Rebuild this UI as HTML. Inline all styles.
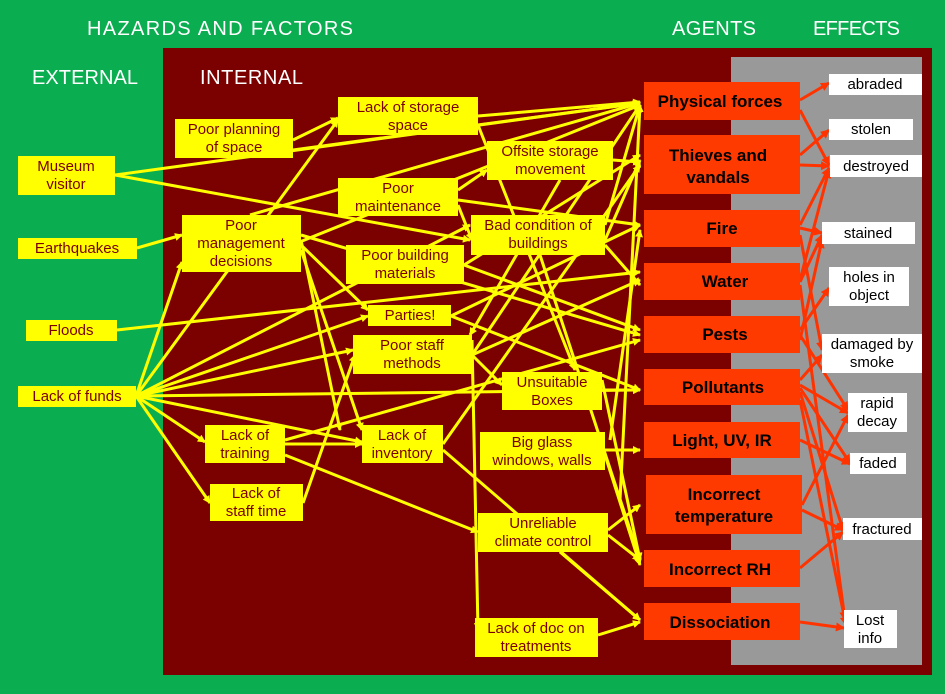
<!DOCTYPE html>
<html><head><meta charset="utf-8"><style>
html,body{margin:0;padding:0;background:#0aad4f;}
svg{display:block}
.h{font-family:"Liberation Sans",sans-serif;fill:#fff;font-size:20px}
.y{font-family:"Liberation Sans",sans-serif;fill:#7a0000;font-size:15px;text-anchor:middle}
.a{font-family:"Liberation Sans",sans-serif;fill:#000;font-size:17px;font-weight:bold;text-anchor:middle}
.e{font-family:"Liberation Sans",sans-serif;fill:#000;font-size:15px;text-anchor:middle}
</style></head><body>
<svg width="945" height="694" xmlns="http://www.w3.org/2000/svg">
<defs>
<marker id="ya" markerWidth="8" markerHeight="8" refX="7" refY="4" orient="auto" markerUnits="userSpaceOnUse" viewBox="0 0 8 8"><path d="M0,0 L8,4 L0,8 z" fill="#ffff00"/></marker>
<marker id="ra" markerWidth="9" markerHeight="9" refX="8" refY="4.5" orient="auto" markerUnits="userSpaceOnUse" viewBox="0 0 9 9"><path d="M0,0 L9,4.5 L0,9 z" fill="#ff3300"/></marker>
</defs>
<rect width="945" height="694" fill="#0aad4f"/>
<rect x="163" y="48" width="769" height="627" fill="#7b0000"/>
<rect x="731" y="57" width="191" height="608" fill="#999"/>
<text class="h" x="87" y="35" textLength="266">HAZARDS  AND  FACTORS</text>
<text class="h" x="672" y="35" textLength="84">AGENTS</text>
<text class="h" x="813" y="35" textLength="87">EFFECTS</text>
<text class="h" x="32" y="84" textLength="106">EXTERNAL</text>
<text class="h" x="200" y="84" textLength="103">INTERNAL</text>

<g stroke="#ffff00" stroke-width="3" fill="none" marker-end="url(#ya)">
<line x1="115" y1="175" x2="640" y2="103"/>
<line x1="115" y1="175" x2="470" y2="240"/>
<line x1="137" y1="248" x2="182" y2="235"/>
<line x1="117" y1="330" x2="640" y2="272"/>
<line x1="136" y1="396" x2="182" y2="262"/>
<line x1="136" y1="396" x2="338" y2="120"/>
<line x1="136" y1="396" x2="470" y2="225"/>
<line x1="136" y1="396" x2="368" y2="316"/>
<line x1="136" y1="396" x2="353" y2="350"/>
<line x1="136" y1="396" x2="640" y2="390"/>
<line x1="136" y1="396" x2="205" y2="442"/>
<line x1="136" y1="396" x2="362" y2="442"/>
<line x1="136" y1="396" x2="210" y2="503"/>
<line x1="285" y1="455" x2="478" y2="532"/>
<line x1="285" y1="444" x2="362" y2="444"/>
<line x1="285" y1="440" x2="640" y2="340"/>
<line x1="303" y1="503" x2="355" y2="355"/>
<line x1="293" y1="140" x2="338" y2="118"/>
<line x1="293" y1="150" x2="640" y2="103"/>
<line x1="478" y1="116" x2="640" y2="102"/>
<line x1="478" y1="125" x2="575" y2="370"/>
<line x1="458" y1="190" x2="487" y2="170"/>
<line x1="458" y1="200" x2="640" y2="225"/>
<line x1="458" y1="205" x2="472" y2="240"/>
<line x1="250" y1="215" x2="640" y2="103"/>
<line x1="301" y1="235" x2="640" y2="335"/>
<line x1="301" y1="245" x2="368" y2="310"/>
<line x1="301" y1="250" x2="362" y2="430"/>
<line x1="301" y1="240" x2="340" y2="430"/>
<line x1="225" y1="272" x2="640" y2="105"/>
<line x1="464" y1="265" x2="640" y2="155"/>
<line x1="464" y1="265" x2="640" y2="330"/>
<line x1="605" y1="225" x2="640" y2="105"/>
<line x1="605" y1="240" x2="640" y2="160"/>
<line x1="605" y1="245" x2="640" y2="285"/>
<line x1="540" y1="255" x2="640" y2="560"/>
<line x1="613" y1="160" x2="640" y2="162"/>
<line x1="560" y1="180" x2="470" y2="335"/>
<line x1="451" y1="316" x2="640" y2="225"/>
<line x1="451" y1="316" x2="640" y2="390"/>
<line x1="472" y1="355" x2="640" y2="105"/>
<line x1="472" y1="355" x2="502" y2="385"/>
<line x1="472" y1="355" x2="640" y2="280"/>
<line x1="472" y1="340" x2="478" y2="630"/>
<line x1="602" y1="390" x2="640" y2="390"/>
<line x1="602" y1="380" x2="640" y2="560"/>
<line x1="443" y1="444" x2="640" y2="165"/>
<line x1="443" y1="450" x2="640" y2="620"/>
<line x1="605" y1="450" x2="640" y2="450"/>
<line x1="605" y1="455" x2="640" y2="565"/>
<line x1="608" y1="530" x2="640" y2="505"/>
<line x1="608" y1="535" x2="640" y2="560"/>
<line x1="560" y1="552" x2="640" y2="620"/>
<line x1="598" y1="635" x2="640" y2="622"/>
<line x1="610" y1="440" x2="640" y2="230"/>
<line x1="620" y1="500" x2="640" y2="105"/>
</g>

<g stroke="#ff3300" stroke-width="3" fill="none" marker-end="url(#ra)">
<line x1="800" y1="100" x2="829" y2="83"/>
<line x1="800" y1="110" x2="829" y2="165"/>
<line x1="800" y1="155" x2="829" y2="130"/>
<line x1="800" y1="165" x2="829" y2="166"/>
<line x1="800" y1="225" x2="829" y2="168"/>
<line x1="800" y1="228" x2="822" y2="233"/>
<line x1="800" y1="235" x2="822" y2="350"/>
<line x1="800" y1="280" x2="829" y2="170"/>
<line x1="800" y1="282" x2="822" y2="235"/>
<line x1="800" y1="285" x2="845" y2="620"/>
<line x1="800" y1="330" x2="829" y2="288"/>
<line x1="800" y1="335" x2="848" y2="410"/>
<line x1="800" y1="340" x2="822" y2="240"/>
<line x1="800" y1="385" x2="848" y2="413"/>
<line x1="800" y1="388" x2="850" y2="463"/>
<line x1="800" y1="380" x2="822" y2="355"/>
<line x1="800" y1="392" x2="843" y2="530"/>
<line x1="800" y1="440" x2="850" y2="464"/>
<line x1="802" y1="505" x2="848" y2="415"/>
<line x1="802" y1="510" x2="843" y2="530"/>
<line x1="800" y1="568" x2="843" y2="532"/>
<line x1="800" y1="622" x2="844" y2="628"/>
<line x1="800" y1="400" x2="846" y2="625"/>
</g>

<g fill="#ffff00">
<rect x="18" y="156" width="97" height="39"/>
<rect x="18" y="238" width="119" height="21"/>
<rect x="26" y="320" width="91" height="21"/>
<rect x="18" y="386" width="118" height="21"/>
<rect x="175" y="119" width="118" height="39"/>
<rect x="338" y="97" width="140" height="38"/>
<rect x="182" y="215" width="119" height="57"/>
<rect x="338" y="178" width="120" height="38"/>
<rect x="487" y="141" width="126" height="39"/>
<rect x="346" y="245" width="118" height="39"/>
<rect x="471" y="215" width="134" height="40"/>
<rect x="368" y="305" width="83" height="21"/>
<rect x="353" y="335" width="119" height="39"/>
<rect x="502" y="372" width="100" height="38"/>
<rect x="205" y="425" width="80" height="38"/>
<rect x="362" y="425" width="81" height="38"/>
<rect x="480" y="432" width="125" height="38"/>
<rect x="210" y="484" width="93" height="37"/>
<rect x="478" y="513" width="130" height="39"/>
<rect x="475" y="618" width="123" height="39"/>
</g>
<text class="y" x="66" y="171">Museum</text><text class="y" x="66" y="189">visitor</text>
<text class="y" x="77" y="253">Earthquakes</text>
<text class="y" x="71" y="335">Floods</text>
<text class="y" x="77" y="401">Lack of funds</text>
<text class="y" x="234" y="134">Poor planning</text><text class="y" x="234" y="152">of space</text>
<text class="y" x="408" y="112">Lack of storage</text><text class="y" x="408" y="130">space</text>
<text class="y" x="241" y="230">Poor</text><text class="y" x="241" y="248">management</text><text class="y" x="241" y="266">decisions</text>
<text class="y" x="398" y="193">Poor</text><text class="y" x="398" y="211">maintenance</text>
<text class="y" x="550" y="156">Offsite storage</text><text class="y" x="550" y="174">movement</text>
<text class="y" x="405" y="260">Poor building</text><text class="y" x="405" y="278">materials</text>
<text class="y" x="538" y="230">Bad condition of</text><text class="y" x="538" y="248">buildings</text>
<text class="y" x="410" y="320">Parties!</text>
<text class="y" x="412" y="350">Poor staff</text><text class="y" x="412" y="368">methods</text>
<text class="y" x="552" y="387">Unsuitable</text><text class="y" x="552" y="405">Boxes</text>
<text class="y" x="245" y="440">Lack of</text><text class="y" x="245" y="458">training</text>
<text class="y" x="402" y="440">Lack of</text><text class="y" x="402" y="458">inventory</text>
<text class="y" x="542" y="447">Big glass</text><text class="y" x="542" y="465">windows, walls</text>
<text class="y" x="256" y="498">Lack of</text><text class="y" x="256" y="516">staff time</text>
<text class="y" x="543" y="528">Unreliable</text><text class="y" x="543" y="546">climate control</text>
<text class="y" x="536" y="633">Lack of doc on</text><text class="y" x="536" y="651">treatments</text>

<g fill="#ff3a00">
<rect x="644" y="82" width="156" height="38"/>
<rect x="644" y="135" width="156" height="59"/>
<rect x="644" y="210" width="156" height="37"/>
<rect x="644" y="263" width="156" height="37"/>
<rect x="644" y="316" width="156" height="37"/>
<rect x="644" y="369" width="156" height="36"/>
<rect x="644" y="422" width="156" height="36"/>
<rect x="646" y="475" width="156" height="59"/>
<rect x="644" y="550" width="156" height="37"/>
<rect x="644" y="603" width="156" height="37"/>
</g>
<text class="a" x="720" y="107">Physical forces</text>
<text class="a" x="718" y="161">Thieves and</text><text class="a" x="718" y="183">vandals</text>
<text class="a" x="722" y="234">Fire</text>
<text class="a" x="725" y="287">Water</text>
<text class="a" x="725" y="340">Pests</text>
<text class="a" x="723" y="393">Pollutants</text>
<text class="a" x="722" y="446">Light, UV, IR</text>
<text class="a" x="724" y="500">Incorrect</text><text class="a" x="724" y="522">temperature</text>
<text class="a" x="720" y="575">Incorrect RH</text>
<text class="a" x="720" y="628">Dissociation</text>

<g fill="#fff">
<rect x="829" y="74" width="93" height="21"/>
<rect x="829" y="119" width="84" height="21"/>
<rect x="830" y="155" width="92" height="22"/>
<rect x="822" y="222" width="93" height="22"/>
<rect x="829" y="267" width="80" height="39"/>
<rect x="822" y="334" width="100" height="39"/>
<rect x="848" y="393" width="59" height="39"/>
<rect x="850" y="453" width="56" height="21"/>
<rect x="843" y="518" width="79" height="22"/>
<rect x="844" y="610" width="53" height="38"/>
</g>
<text class="e" x="875" y="89">abraded</text>
<text class="e" x="871" y="134">stolen</text>
<text class="e" x="876" y="171">destroyed</text>
<text class="e" x="868" y="238">stained</text>
<text class="e" x="869" y="282">holes in</text><text class="e" x="869" y="300">object</text>
<text class="e" x="872" y="349">damaged by</text><text class="e" x="872" y="367">smoke</text>
<text class="e" x="877" y="408">rapid</text><text class="e" x="877" y="426">decay</text>
<text class="e" x="878" y="468">faded</text>
<text class="e" x="882" y="534">fractured</text>
<text class="e" x="870" y="625">Lost</text><text class="e" x="870" y="643">info</text>
</svg>
</body></html>
